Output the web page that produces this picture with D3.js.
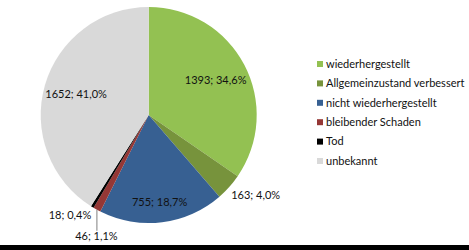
<!DOCTYPE html>
<html>
<head>
<meta charset="utf-8">
<script src="https://cdn.jsdelivr.net/npm/d3@7"></script>
<style>
  html, body { margin: 0; padding: 0; background: #fff; }
  svg { display: block; }
</style>
</head>
<body>
<div id="viz"></div>
<script>
const width = 469;
const height = 250;

// Data
const categories = ['wiederhergestellt', 'Allgemeinzustand verbessert', 'nicht wiederhergestellt', 'bleibender Schaden', 'Tod', 'unbekannt'];
const counts = [1393, 163, 755, 46, 18, 1652];
const percentLabels = ['34,6%', '4,0%', '18,7%', '1,1%', '0,4%', '41,0%'];
const colors = ['#93c152', '#77933c', '#376092', '#953735', '#000000', '#d9d9d9'];

// Where each data label goes (fraction of radius, and placement kind)
const labelLayout = [
  { kind: 'in', r: 0.70 },
  { kind: 'out', r: 1.0 },
  { kind: 'in', r: 0.81 },
  { kind: 'leader', r: 1.0 },
  { kind: 'side', r: 1.0 },
  { kind: 'in', r: 0.70 },
];

const center = { x: 148.7, y: 115 };
const radius = 108;
const font = 'Lato, "Open Sans", sans-serif';
const fontSize = '11px';

const data = categories.map((c, i) => ({ name: c, value: counts[i], pct: percentLabels[i], color: colors[i], layout: labelLayout[i] }));

const svg = d3.select('#viz')
  .append('svg')
    .attr('width', width)
    .attr('height', height);

const pie = d3.pie()
  .sort(null)
  .value(d => d.value);

const arcs = pie(data);

const arc = d3.arc()
  .innerRadius(0)
  .outerRadius(radius);

const g = svg.append('g')
  .attr('transform', `translate(${center.x},${center.y})`);

g.selectAll('path')
  .data(arcs)
  .join('path')
    .attr('d', arc)
    .attr('fill', d => d.data.color);

// Helper to find a point at a given radius along the middle angle
const pointAt = (d, r) => {
  const a = (d.startAngle + d.endAngle) / 2;
  return [r * Math.sin(a), -r * Math.cos(a)];
};

const labelText = d => `${d.data.value}; ${d.data.pct}`;

const addLabel = (x, y, anchor, d) => g.append('text')
  .attr('x', x)
  .attr('y', y)
  .attr('dy', '0.35em')
  .attr('text-anchor', anchor)
  .style('font-family', font)
  .style('font-size', fontSize)
  .attr('fill', '#111')
  .text(labelText(d));

arcs.forEach(d => {
  const lay = d.data.layout;
  if (lay.kind === 'in') {
    const [x, y] = pointAt(d, radius * lay.r);
    addLabel(x, y, 'middle', d);
  } else if (lay.kind === 'out') {
    // outside, next to the rim
    const [x, y] = pointAt(d, radius * lay.r);
    addLabel(x + 2, y + 8, 'start', d);
  } else if (lay.kind === 'leader') {
    const [x, y] = pointAt(d, radius);
    g.append('line')
      .attr('x1', x).attr('y1', y)
      .attr('x2', x).attr('y2', y + 21)
      .attr('stroke', '#7f7f7f')
      .attr('stroke-width', 1);
    addLabel(x - 0.5, y + 26, 'middle', d);
  } else {
    const [x, y] = pointAt(d, radius);
    addLabel(x - 1, y + 8, 'end', d);
  }
});

// Legend
const legendY = d3.scalePoint()
  .domain(categories)
  .range([64, 161]);

const legend = svg.append('g')
  .selectAll('g')
  .data(data)
  .join('g')
    .attr('transform', d => `translate(317,${legendY(d.name)})`);

legend.append('rect')
  .attr('x', 0)
  .attr('y', -3)
  .attr('width', 6)
  .attr('height', 6)
  .attr('fill', d => d.color);

legend.append('text')
  .attr('x', 9)
  .attr('y', 0)
  .attr('dy', '0.35em')
  .style('font-family', font)
  .style('font-size', fontSize)
  .attr('fill', '#111')
  .text(d => d.name);

// Black strip along the bottom edge of the picture
svg.append('rect')
  .attr('x', 0)
  .attr('y', height - 5)
  .attr('width', width)
  .attr('height', 5)
  .attr('fill', '#000');
</script>
</body>
</html>
